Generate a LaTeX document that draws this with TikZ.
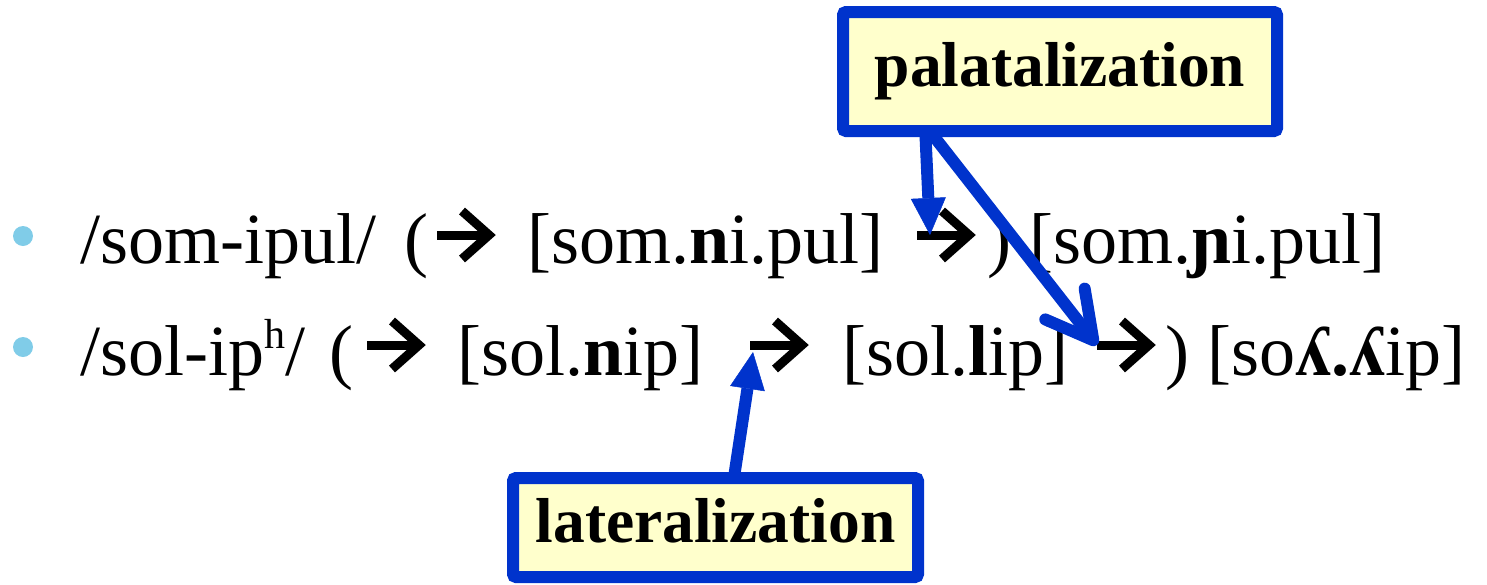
\documentclass[tikz,border=0pt]{standalone}
\usepackage{fontspec}
\setmainfont{Liberation Serif}
\usetikzlibrary{arrows.meta}
\pgfdeclarelayer{top}
\pgfsetlayers{main,top}
\definecolor{boxblue}{HTML}{0033CC}
\definecolor{boxfill}{HTML}{FFFFCC}
\definecolor{dotblue}{HTML}{80CCE8}
\tikzset{
  line/.style={font=\fontsize{72}{86}\selectfont, anchor=base west, inner sep=0pt},
  tag/.style={draw=boxblue, line width=12pt, fill=boxfill, rounded corners=3pt,
    font=\bfseries\fontsize{63.5}{76}\selectfont, text height=43pt, text depth=13pt, inner sep=0pt},
  bul/.style={circle, fill=dotblue, inner sep=0pt, minimum size=20pt},
  solidarrow/.style={draw=boxblue, line width=12pt,
    -{Triangle[length=37pt,width=35pt,line width=0.5pt]}},
  barbarrow/.style={draw=boxblue, line width=12pt, line cap=round,
    -{Straight Barb[length=46pt,width=50pt,round]}},
  shaft/.style={line width=9pt},
  chevron/.style={line width=9pt, miter limit=10}
}
% a heavy right arrow whose shaft starts at the given coordinate
\newcommand\rightstep[1]{%
  \draw[shaft] (#1) -- ([xshift=52pt]#1);
  \draw[chevron] ([shift={(25pt,24pt)}]#1) -- ([xshift=52pt]#1) -- ([shift={(25pt,-24pt)}]#1);
}
\begin{document}
\begin{tikzpicture}[x=1pt, y=-1pt]
\useasboundingbox (0,0) rectangle (1487,584);

% bullets
\node[bul] (b1) at (23,236) {};
\node[bul] (b2) at (23,347) {};

% first line
\node[line] (t1) at (80,263) {/som-ipul/\hspace{28pt}(};
\coordinate (a1) at (437,235);
\rightstep{a1}
\node[line] (t2) at (527,263) {[som.\textbf{n}i.pul]};
\coordinate (a2) at (917,235);
\rightstep{a2}
\node[line] (t3) at (987,263) {) [som.\textbf{ɲ}i.pul]};

% second line
\node[line] (t4) at (80,375) {/sol-ip\raisebox{27pt}{\fontsize{42}{42}\selectfont h}/\hspace{24pt}(};
\coordinate (a3) at (367,345);
\rightstep{a3}
\node[line] (t5) at (457,375) {[sol.\textbf{n}ip]};
\coordinate (a4) at (750,345);
\rightstep{a4}
\node[line] (t6) at (842,375) {[sol.\textbf{l}ip]};
\coordinate (a5) at (1097,345);
\rightstep{a5}
\node[line] (t7) at (1165,375) {) [so\textbf{ʎ.ʎ}ip]};

% labels
\begin{pgfonlayer}{top}
\node[tag, minimum width=434pt, minimum height=119pt] (pal) at (1060,71.5) {palatalization};
\node[tag, minimum width=405pt, minimum height=99pt] (lat) at (715.5,527.5) {lateralization};
\end{pgfonlayer}

% rule arrows
\coordinate (pfoot) at ([xshift=88pt,yshift=12pt]pal.south west);
\coordinate (lhead) at ([xshift=226pt,yshift=-12pt]lat.north west);
\draw[solidarrow] (pfoot) -- ([xshift=13pt]a2);
\draw[barbarrow] (pfoot) -- (a5);
\draw[solidarrow] (lhead) -- ([xshift=3pt,yshift=-7pt]a4);
\end{tikzpicture}
\end{document}
